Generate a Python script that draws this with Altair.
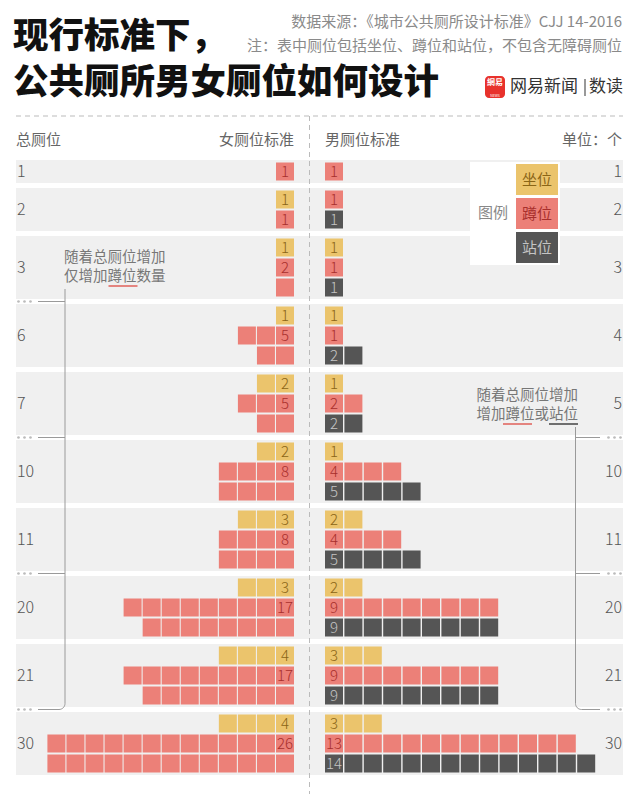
import math
import altair as alt
import pandas as pd

# ---------------- data ----------------
female_totals = [1, 2, 3, 6, 7, 10, 11, 20, 21, 30]
female_sit    = [0, 1, 1, 1, 2, 2, 3, 3, 4, 4]
female_squat  = [1, 1, 2, 5, 5, 8, 8, 17, 17, 26]
male_totals   = [1, 2, 3, 4, 5, 10, 11, 20, 21, 30]
male_sit      = [0, 0, 1, 1, 1, 1, 2, 2, 3, 3]
male_squat    = [1, 1, 1, 1, 2, 4, 4, 9, 9, 13]
male_stand    = [0, 1, 1, 2, 2, 5, 5, 9, 9, 14]
types = ["坐位", "蹲位", "站位"]

# ---------------- style / layout ----------------
W, H = 640, 794
FONT = "Noto Sans CJK SC"
FILL = {"坐位": "#ebc46c", "蹲位": "#ec8078", "站位": "#555555"}
INK = {"坐位": "#8a6516", "蹲位": "#a82f2c", "站位": "#c4c4c4"}
BG = "#f0f0f0"
LINE = "#9a9a9a"
TOP0, ROW, CELL_H, PAD, GAP = 160, 20, 18, 2.5, 5
F_COL, M_COL, CELL_W = 19.05, 19.4, 18
F_RIGHT, M_LEFT = 294, 325
LEFT, RIGHT = 16, 623

# ---------------- bands ----------------
bands = []
t = TOP0
for i in range(len(female_totals)):
    fr = (1 if female_sit[i] > 0 else 0) + (2 if female_squat[i] >= 2 else 1)
    mr = sum(1 for v in (male_sit[i], male_squat[i], male_stand[i]) if v > 0)
    r = max(fr, mr)
    h = r * ROW + 3
    bands.append(dict(x0=LEFT, x1=RIGHT, y0=t, y1=t + h, yc=t + h / 2,
                      flab=str(female_totals[i]), mlab=str(male_totals[i])))
    t += h + GAP
bands_df = pd.DataFrame(bands)

# ---------------- cells ----------------
cells, labels = [], []


def add_row(i, r, n, typ, side, label):
    y0 = bands[i]["y0"] + PAD + r * ROW
    for k in range(n):
        if side == "f":
            x1 = F_RIGHT - k * F_COL
            x0 = x1 - CELL_W
        else:
            x0 = M_LEFT + k * M_COL
            x1 = x0 + CELL_W
        cells.append(dict(x0=x0, x1=x1, y0=y0, y1=y0 + CELL_H, fill=FILL[typ]))
        if k == 0 and label is not None:
            labels.append(dict(x=(x0 + x1) / 2, y=y0 + CELL_H / 2 + 0.5,
                               text=str(label), ink=INK[typ]))


for i in range(len(female_totals)):
    r = 0
    if female_sit[i] > 0:
        add_row(i, r, female_sit[i], "坐位", "f", female_sit[i]); r += 1
    q = female_squat[i]
    if q >= 2:
        top = math.ceil(q / 2)
        add_row(i, r, top, "蹲位", "f", q)
        add_row(i, r + 1, q - top, "蹲位", "f", None)
    else:
        add_row(i, r, q, "蹲位", "f", q)
    r = 0
    for typ, arr in zip(types, (male_sit, male_squat, male_stand)):
        if arr[i] > 0:
            add_row(i, r, arr[i], typ, "m", arr[i]); r += 1

cells_df = pd.DataFrame(cells)
labels_df = pd.DataFrame(labels)

# ---------------- separators / brackets ----------------
f_seps = [bands[i]["y0"] - GAP / 2 for i in range(1, len(bands))
          if female_totals[i] - female_totals[i - 1] > 1]
m_seps = [bands[i]["y0"] - GAP / 2 for i in range(1, len(bands))
          if male_totals[i] - male_totals[i - 1] > 1]

LX, RX = 65, 575.5
seg_rows = []
for y in f_seps[:-1]:
    seg_rows.append(dict(x0=38, x1=LX, y=y))
for y in m_seps[:-1]:
    seg_rows.append(dict(x0=RX, x1=600, y=y))
segs_df = pd.DataFrame(seg_rows)

R = 6
path = []
ly = f_seps[-1]
pts = [(LX, 289)] + [(LX - R + R * math.cos(a), ly - R + R * math.sin(a))
                    for a in [j * math.pi / 2 / 8 for j in range(9)]] + [(38, ly)]
for o, (x, y) in enumerate(pts):
    path.append(dict(p="L", o=o, x=x, y=y))
ry = m_seps[-1]
pts = [(RX, 427)] + [(RX + R + R * math.cos(a), ry - R + R * math.sin(a))
                    for a in [math.pi - j * math.pi / 2 / 8 for j in range(9)]] + [(600, ry)]
for o, (x, y) in enumerate(pts):
    path.append(dict(p="R", o=o, x=x, y=y))
path_df = pd.DataFrame(path)

dots = []
for y in f_seps:
    for x in (18.5, 24.5, 30.5):
        dots.append(dict(x=x, y=y))
for y in m_seps:
    for x in (608.5, 614.5, 620.5):
        dots.append(dict(x=x, y=y))
dots_df = pd.DataFrame(dots)

# ---------------- helpers ----------------
xs = alt.Scale(domain=[0, W], range=[0, W], nice=False, zero=False)
ys = alt.Scale(domain=[0, H], range=[0, H], nice=False, zero=False)


def X(f):
    return alt.X(f, type="quantitative", scale=xs, axis=None)


def Y(f):
    return alt.Y(f, type="quantitative", scale=ys, axis=None)


one = pd.DataFrame({"a": [0]})


def txt(s, x, y, size, color, align="left", weight="normal", baseline="middle"):
    return alt.Chart(one).mark_text(
        text=s, font=FONT, fontSize=size, color=color, align=align,
        baseline=baseline, fontWeight=weight
    ).encode(x=alt.value(x), y=alt.value(y))


def box(x0, x1, y0, y1, color, radius=0):
    return alt.Chart(one).mark_rect(color=color, cornerRadius=radius).encode(
        x=alt.value(x0), x2=alt.value(x1), y=alt.value(y0), y2=alt.value(y1))


def hline(x0, x1, y, color, width=1, dash=None):
    kw = dict(color=color, strokeWidth=width)
    if dash:
        kw["strokeDash"] = dash
    return alt.Chart(one).mark_rule(**kw).encode(
        x=alt.value(x0), x2=alt.value(x1), y=alt.value(y))


def vline(x, y0, y1, color, width=1, dash=None):
    kw = dict(color=color, strokeWidth=width)
    if dash:
        kw["strokeDash"] = dash
    return alt.Chart(one).mark_rule(**kw).encode(
        x=alt.value(x), y=alt.value(y0), y2=alt.value(y1))


# ---------------- layers ----------------
band_layer = alt.Chart(bands_df).mark_rect(color=BG).encode(
    x=X("x0"), x2="x1", y=Y("y0"), y2="y1")

band_left = alt.Chart(bands_df).mark_text(
    font=FONT, fontSize=16, color="#555555", align="left", baseline="middle",
    fontWeight=300).encode(x=alt.value(LEFT + 1), y=Y("yc"), text="flab")
band_right = alt.Chart(bands_df).mark_text(
    font=FONT, fontSize=16, color="#555555", align="right", baseline="middle",
    fontWeight=300).encode(x=alt.value(622), y=Y("yc"), text="mlab")

cell_layer = alt.Chart(cells_df).mark_rect().encode(
    x=X("x0"), x2="x1", y=Y("y0"), y2="y1",
    color=alt.Color("fill:N", scale=None))

label_layer = alt.Chart(labels_df).mark_text(
    font=FONT, fontSize=15, baseline="middle", align="center", fontWeight=300
).encode(x=X("x"), y=Y("y"), text="text:N", color=alt.Color("ink:N", scale=None))

seg_layer = alt.Chart(segs_df).mark_rule(color=LINE, strokeWidth=1).encode(
    x=X("x0"), x2="x1", y=Y("y"))

path_layer = alt.Chart(path_df).mark_line(color=LINE, strokeWidth=1).encode(
    x=X("x"), y=Y("y"), detail="p:N", order="o:Q")

dot_layer = alt.Chart(dots_df).mark_circle(color="#bbbbbb", size=7, opacity=1).encode(
    x=X("x"), y=Y("y"))

layers = [
    band_layer,
    # legend box
    box(470, 560, 162, 265, "white"),
    box(516, 558, 164, 195, FILL["坐位"]),
    box(516, 558, 198, 229, FILL["蹲位"]),
    box(516, 558, 232, 263, FILL["站位"]),
    txt("坐位", 537, 180, 15, INK["坐位"], "center"),
    txt("蹲位", 537, 214, 15, INK["蹲位"], "center"),
    txt("站位", 537, 248, 15, INK["站位"], "center"),
    txt("图例", 493, 213, 15, "#888888", "center"),
    # dashed guides
    hline(LEFT, RIGHT, 116, "#bbbbbb", 1, [5, 4]),
    vline(309.5, 116, H, "#bbbbbb", 1, [5, 4]),
    cell_layer,
    label_layer,
    band_left,
    band_right,
    seg_layer,
    path_layer,
    dot_layer,
    # header row
    txt("总厕位", LEFT, 140, 15, "#666666"),
    txt("女厕位标准", F_RIGHT, 140, 15, "#666666", "right"),
    txt("男厕位标准", M_LEFT, 140, 15, "#666666"),
    txt("单位：个", 622, 140, 15, "#666666", "right"),
    # annotations
    txt("随着总厕位增加", 64, 258, 14.5, "#777777"),
    txt("仅增加蹲位数量", 64, 277, 14.5, "#777777"),
    hline(108.5, 137.5, 286, "#e0605a", 1.5),
    txt("随着总厕位增加", 578, 396, 14.5, "#777777", "right"),
    txt("增加蹲位或站位", 578, 415, 14.5, "#777777", "right"),
    hline(503, 532, 424, "#e0605a", 1.5),
    hline(549, 578, 424, "#444444", 1.5),
    # title block
    txt("现行标准下，", 13, 37, 35.5, "#111111", "left", 900),
    txt("公共厕所男女厕位如何设计", 13, 83, 35.5, "#111111", "left", 900),
    txt("数据来源：《城市公共厕所设计标准》CJJ 14-2016", 622, 22, 15, "#8a8a8a", "right"),
    txt("注：表中厕位包括坐位、蹲位和站位，不包含无障碍厕位", 622, 46, 15, "#8a8a8a", "right"),
    box(485, 505, 76, 98, "#e8322c", 4),
    txt("網易", 495, 83, 8, "white", "center", "bold"),
    txt("NEWS", 495, 95.5, 3.5, "white", "center"),
    txt("网易新闻", 510, 87, 17, "#333333"),
    vline(585, 79, 96, "#555555", 1.2),
    txt("数读", 589, 87, 17, "#333333"),
]

chart = alt.layer(*layers).properties(
    width=W, height=H, padding=0, autosize=alt.AutoSizeParams(type="none"),
    background="white"
).configure_view(stroke=None)

chart.save("out.html", embed_options={"renderer": "svg", "actions": False})
